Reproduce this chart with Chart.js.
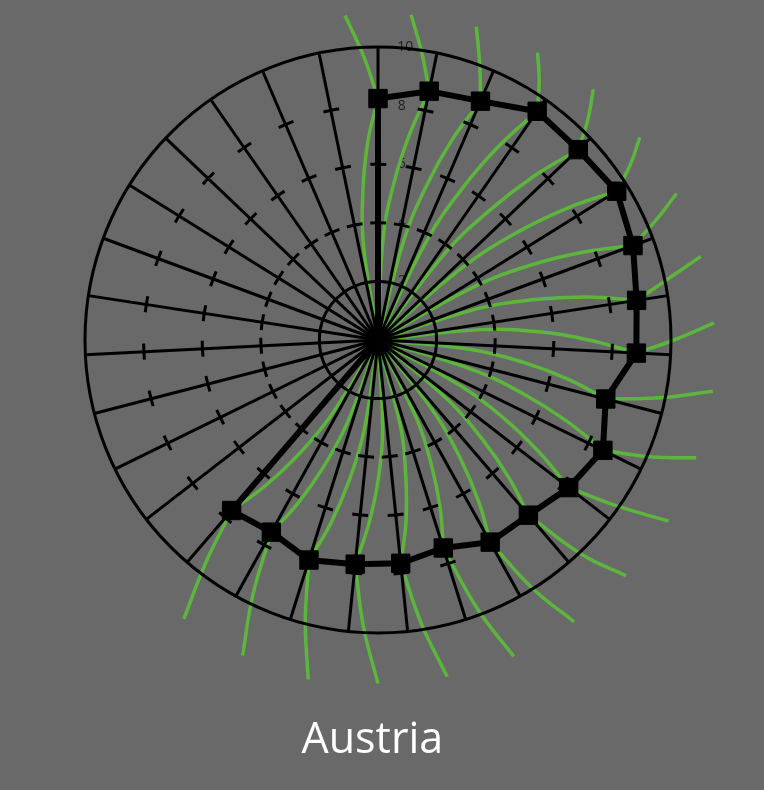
<!DOCTYPE html>
<html>
<head>
<meta charset="utf-8">
<title>Austria</title>
<script src="https://cdn.jsdelivr.net/npm/chart.js@4.4.1/dist/chart.umd.min.js"></script>
<style>
  html, body { margin: 0; padding: 0; background: #696969; }
  canvas { display: block; }
</style>
</head>
<body>
<canvas id="myChart" width="764" height="790"></canvas>
<script>
// 31 spokes, no visible labels on the reference
const categories = ['1', '2', '3', '4', '5', '6', '7', '8', '9', '10', '11', '12', '13', '14', '15', '16',
  '17', '18', '19', '20', '21', '22', '23', '24', '25', '26', '27', '28', '29', '30', '31'];

// black series (square markers)
const austria = [8.24, 8.67, 8.87, 9.51, 9.43, 9.60, 9.28, 8.93, 8.83, 8.03, 8.55, 8.23, 7.88, 7.89, 7.44,
  7.66, 7.69, 7.87, 7.50, 7.67, 0, 0, 0, 0, 0, 0, 0, 0, 0, 0, 0];

// green arms, one per spoke 0..19. Each runs from the centre, bows back (anticlockwise)
// to meet the black square, then hooks back again to its tip outside the outer ring.
// values are read at 3/4, 1/2 and 1/4 of a spoke step before the spoke
const armIn3 = [3.3, 3.5, 3.5, 3.8, 3.8, 3.8, 3.7, 3.6, 3.5, 3.2, 3.4, 3.3, 3.2, 3.2, 3.0, 3.1, 3.1, 3.1, 3.0, 3.1];
const armIn2 = [5.1, 5.4, 5.5, 5.9, 5.8, 6.0, 5.8, 5.5, 5.5, 5.0, 5.3, 5.1, 4.9, 4.9, 4.6, 4.7, 4.8, 4.9, 4.7, 4.8];
const armIn1 = [6.8, 7.1, 7.3, 7.8, 7.7, 7.9, 7.6, 7.3, 7.2, 6.6, 7.0, 6.7, 6.5, 6.5, 6.1, 6.3, 6.3, 6.5, 6.2, 6.3];
const armMeet = [8.24, 8.67, 8.87, 9.51, 9.43, 9.60, 9.28, 8.93, 8.83, 8.03, 8.55, 8.23, 7.88, 7.89, 7.44,
  7.66, 7.69, 7.87, 7.50, 7.67];
const armOut1 = [9.7, 9.9, 10.0, 10.4, 10.4, 10.5, 10.3, 10.0, 10.1, 9.8, 10.1, 9.9, 10.1, 10.0, 9.8,
  9.8, 9.8, 9.9, 9.7, 9.6];
const armTip = [11.13, 11.16, 11.21, 11.22, 11.28, 11.30, 11.35, 11.38, 11.49, 11.56, 11.58, 11.68, 11.68,
  11.72, 11.75, 11.73, 11.73, 11.83, 11.72, 11.60];

const tickMin = 0;
const tickMax = 10;
const tickStep = 2;
const solidRings = [2, 10];

// quarter-spoke positions so the arms can sit between spokes
const n = categories.length;
const sub = 4;
const labels = [];
const blackData = [];
categories.forEach((c, i) => {
  labels.push(c, '', '', '');
  blackData.push(austria[i], null, null, null);
});
const m = labels.length;
const at = (k, back) => (sub * k - back + m) % m;
const armOuter = new Array(m).fill(null);
const armInnerA = new Array(m).fill(null);
const armInnerB = new Array(m).fill(null);
armMeet.forEach((v, k) => {
  armOuter[at(k, 2)] = armTip[k];
  armOuter[at(k, 1)] = armOut1[k];
  armOuter[at(k, 0)] = v;
  const inner = k % 2 === 0 ? armInnerA : armInnerB;
  inner[at(k, 4)] = 0;
  inner[at(k, 3)] = armIn3[k];
  inner[at(k, 2)] = armIn2[k];
  inner[at(k, 1)] = armIn1[k];
  inner[at(k, 0)] = v;
});

// short tick marks on every spoke for the inner rings
const markLen = 16;
function ringRadius(ctx) {
  return ctx.scale.getDistanceFromCenterForValue(ctx.tick.value);
}
function ringDash(ctx) {
  if (!ctx.tick || solidRings.includes(ctx.tick.value)) return [];
  const period = 2 * Math.PI * ringRadius(ctx) / n;
  return [markLen, period - markLen];
}
function ringDashOffset(ctx) {
  if (!ctx.tick || solidRings.includes(ctx.tick.value)) return 0;
  return markLen / 2 - ringRadius(ctx) * Math.PI / (2 * n);
}

const greenStyle = {
  borderColor: '#5cb53c',
  borderWidth: 3.5,
  pointRadius: 0,
  pointHoverRadius: 0,
  tension: 0.4,
  fill: false
};

new Chart(document.getElementById('myChart'), {
  type: 'radar',
  data: {
    labels: labels,
    datasets: [
      {
        label: 'Austria',
        data: blackData,
        spanGaps: true,
        borderColor: '#000',
        borderWidth: 6,
        tension: 0,
        fill: false,
        pointStyle: 'rect',
        pointRadius: 13,
        pointBorderWidth: 1,
        pointBackgroundColor: '#000',
        pointBorderColor: '#000'
      },
      Object.assign({ label: 'arms outer', data: armOuter }, greenStyle),
      Object.assign({ label: 'arms inner a', data: armInnerA }, greenStyle),
      Object.assign({ label: 'arms inner b', data: armInnerB }, greenStyle)
    ]
  },
  options: {
    responsive: false,
    animation: false,
    layout: { padding: { left: 0, right: 8, top: 38, bottom: 0 } },
    plugins: {
      legend: { display: false },
      tooltip: { enabled: false },
      title: {
        display: true,
        position: 'bottom',
        text: 'Austria ',
        color: '#ffffff',
        font: { family: 'Open Sans', size: 43, weight: 'normal' },
        padding: { top: 73, bottom: 23 }
      }
    },
    scales: {
      r: {
        min: tickMin,
        max: tickMax,
        startAngle: 0,
        grid: { circular: true, color: '#000', lineWidth: 3, z: 1 },
        border: { dash: ringDash, dashOffset: ringDashOffset },
        angleLines: {
          color: '#000',
          lineWidth: (ctx) => (ctx.index % sub === 0 ? 3 : 0)
        },
        pointLabels: { display: false },
        ticks: {
          stepSize: tickStep,
          showLabelBackdrop: false,
          color: '#1e1e1e',
          font: { family: 'Open Sans', size: 14 },
          callback: (v) => ' '.repeat(v >= 10 ? 15 : 13) + v
        }
      }
    }
  }
});
</script>
</body>
</html>
